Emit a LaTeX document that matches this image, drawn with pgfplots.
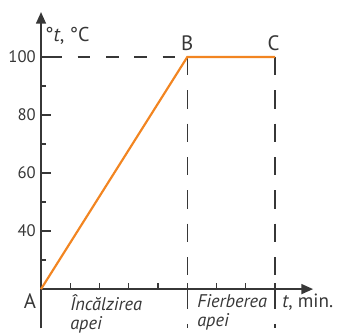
\documentclass[border=0pt]{standalone}
\usepackage{pgfplots}
\pgfplotsset{compat=1.18}
\usepackage{fontspec}
\setmainfont{PT Sans}
\usetikzlibrary{arrows.meta}
\definecolor{lineor}{RGB}{242,133,33}
\definecolor{axgray}{RGB}{55,55,55}
\begin{document}
\begin{tikzpicture}
\begin{axis}[
  scale only axis,
  width=163.2pt, height=165.3pt,
  xmin=0, xmax=9.3, ymin=20, ymax=115,
  axis lines=none,
  clip=false,
]
% axes
\draw[axgray, line width=0.9pt, -{Triangle[length=7pt,width=6pt]}] (axis cs:0,6.5) -- (axis cs:0,115.5);
\draw[axgray, line width=0.9pt, -{Triangle[length=7pt,width=6pt]}] (axis cs:0,20) -- (axis cs:9.3,20);
% y ticks
\pgfplotsinvokeforeach{40,60,80,100}{\draw[axgray, line width=0.8pt] (axis cs:0,#1) -- ([xshift=6pt]axis cs:0,#1);
  \node[anchor=east, font=\fontsize{10}{11}\selectfont, text=axgray, inner sep=0pt] at ([xshift=-3pt]axis cs:0,#1) {#1};}
\pgfplotsinvokeforeach{30,50,70,90}{\draw[axgray, line width=0.8pt] (axis cs:0,#1) -- ([xshift=3pt]axis cs:0,#1);}
% x ticks
\pgfplotsinvokeforeach{1,2,3,4,5,6,7,8}{\draw[axgray, line width=0.8pt] (axis cs:#1,20) -- ([yshift=3.6pt]axis cs:#1,20);}
% dashed guides
\draw[axgray, line width=0.8pt, dash pattern=on 7.5pt off 9.5pt, dash phase=-5pt] (axis cs:0,100) -- (axis cs:5,100);
\draw[axgray, line width=0.8pt, dash pattern=on 11pt off 9pt] (axis cs:5,100) -- (axis cs:5,6.5);
\draw[axgray, line width=0.8pt, dash pattern=on 11pt off 9pt] (axis cs:8,100) -- (axis cs:8,6.5);
% data
\addplot[lineor, line width=1.3pt, no marks] coordinates {(0,20) (5,100) (8,100)};
% labels
\node[font=\fontsize{12}{13}\selectfont, text=axgray] at (axis cs:0.9,107.2) {°\textit{t}, °C};
\node[font=\fontsize{12.5}{13}\selectfont, text=axgray] at (axis cs:5.0,104.8) {B};
\node[font=\fontsize{12.5}{13}\selectfont, text=axgray] at (axis cs:7.95,104.8) {C};
\node[font=\fontsize{12.5}{13}\selectfont, text=axgray] at (axis cs:-0.38,15.9) {A};
\node[font=\itshape\fontsize{11}{11.5}\selectfont, text=axgray, anchor=north west, align=left, inner sep=0pt] at (axis cs:0.99,18.4) {Încălzirea\\apei};
\node[font=\itshape\fontsize{11}{11.5}\selectfont, text=axgray, anchor=north west, align=left, inner sep=0pt] at (axis cs:5.33,18.4) {Fierberea\\apei};
\node[font=\fontsize{11.5}{12}\selectfont, text=axgray, anchor=west, inner sep=0pt] at (axis cs:8.24,15.5) {\textit{t}, min.};
\coordinate (bl) at (axis cs:-1.402,4.14);
\coordinate (tr) at (axis cs:10.22,119.66);
\end{axis}
\pgfresetboundingbox
\useasboundingbox (bl) rectangle (tr);
\end{tikzpicture}
\end{document}
